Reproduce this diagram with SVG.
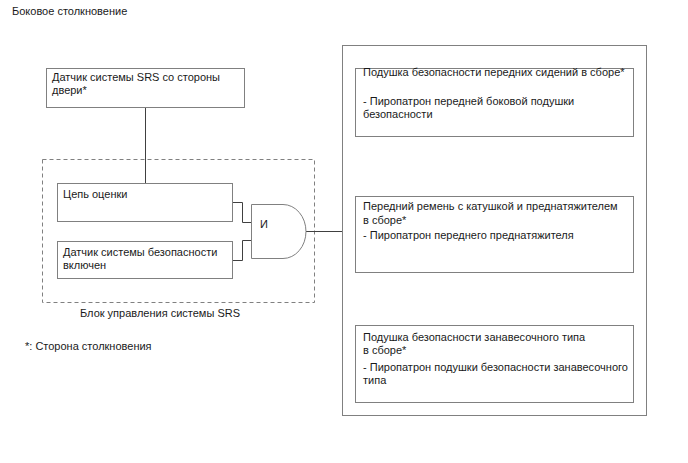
<svg xmlns="http://www.w3.org/2000/svg" width="688" height="463" viewBox="0 0 688 463">
<style>
text{font-family:"Liberation Sans",Arial,sans-serif;font-size:11px;fill:#1a1a1a}
.box{fill:#fff;stroke:#808080;stroke-width:1}
.dash{fill:none;stroke:#808080;stroke-width:1;stroke-dasharray:4,3}
.ln{fill:none;stroke:#404040;stroke-width:1}
</style>
<rect width="688" height="463" fill="#fff"/>
<text x="12" y="15">Боковое столкновение</text>
<g id="srs-unit">
<rect class="dash" x="42.5" y="159.5" width="272" height="143"/>
<text x="80" y="317">Блок управления системы SRS</text>
</g>
<g id="outputs">
<rect class="box" x="342.5" y="45.5" width="304" height="370"/>
</g>
<g id="connectors">
<path class="ln" d="M145.5 107V183"/>
<path class="ln" d="M232 202.5H242.5V222.5H251"/>
<path class="ln" d="M232 260.5H242.5V240.5H251"/>
<path class="ln" d="M306 231.5H342"/>
</g>
<g id="door-sensor">
<rect class="box" x="46.5" y="68.5" width="198" height="39"/>
<text x="52" y="81">Датчик системы SRS со стороны</text>
<text x="52" y="94">двери*</text>
</g>
<g id="eval">
<rect class="box" x="57.5" y="183.5" width="175" height="38"/>
<text x="63" y="198">Цепь оценки</text>
</g>
<g id="safing">
<rect class="box" x="57.5" y="241.5" width="175" height="37"/>
<text x="63" y="256">Датчик системы безопасности</text>
<text x="63" y="269">включен</text>
</g>
<g id="and-gate">
<path class="box" d="M251.5 204.5H283A23 27 0 0 1 283 258.5H251.5Z"/>
<text x="260" y="228">И</text>
</g>
<g id="front-seat-airbag">
<rect class="box" x="355.5" y="68.5" width="278" height="68"/>
<text x="363" y="76">Подушка безопасности передних сидений в сборе*</text>
<text x="363" y="105">- Пиропатрон передней боковой подушки</text>
<text x="363" y="118">безопасности</text>
</g>
<g id="pretensioner">
<rect class="box" x="355.5" y="196.5" width="278" height="76"/>
<text x="363" y="210">Передний ремень с катушкой и преднатяжителем</text>
<text x="363" y="224">в сборе*</text>
<text x="363" y="239">- Пиропатрон переднего преднатяжителя</text>
</g>
<g id="curtain-airbag">
<rect class="box" x="355.5" y="325.5" width="278" height="77"/>
<text x="363" y="341">Подушка безопасности занавесочного типа</text>
<text x="363" y="354">в сборе*</text>
<text x="363" y="371">- Пиропатрон подушки безопасности занавесочного</text>
<text x="363" y="384">типа</text>
</g>
<text x="25" y="350">*: Сторона столкновения</text>
</svg>
